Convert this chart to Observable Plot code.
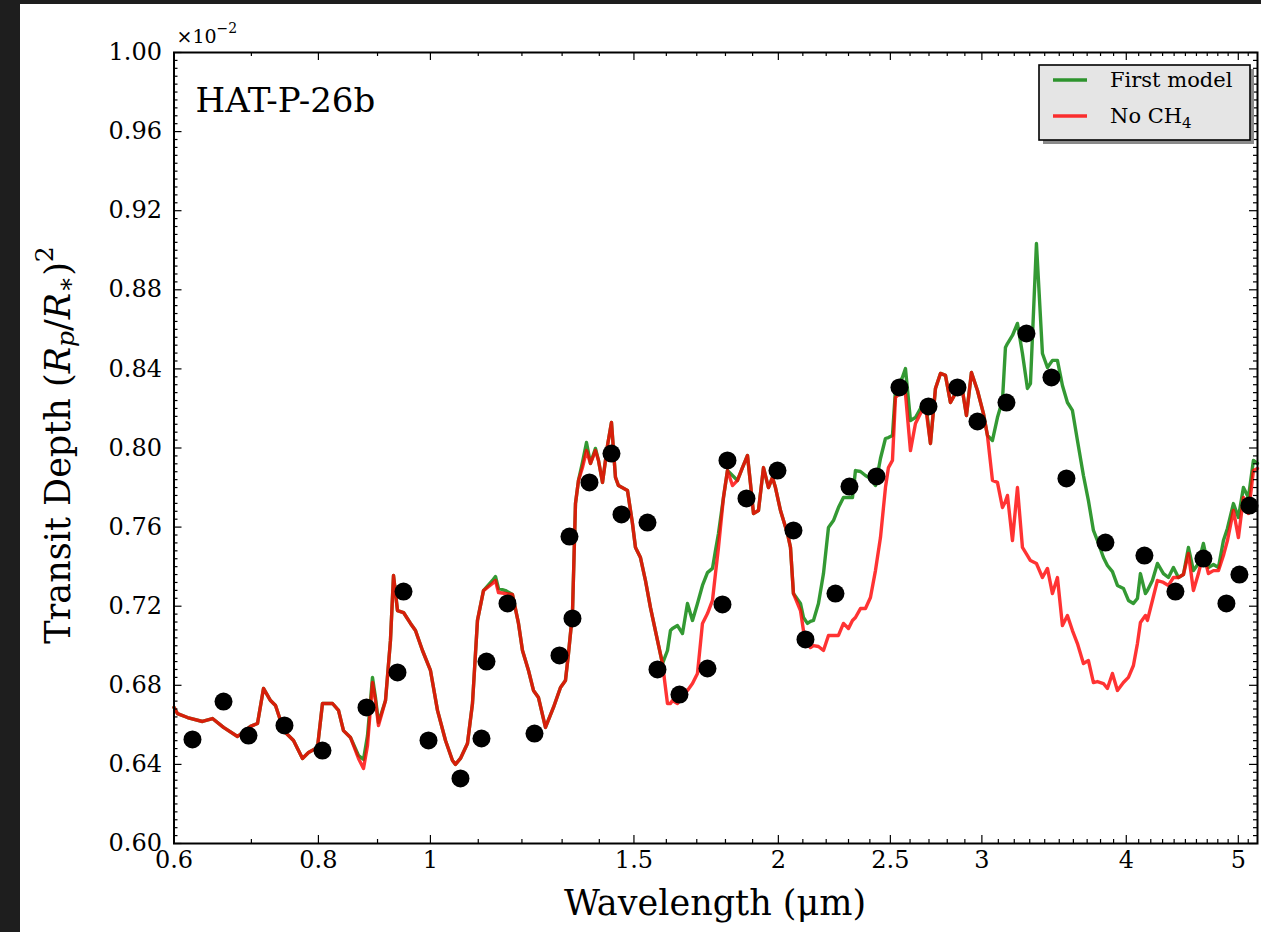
<!DOCTYPE html>
<html><head><meta charset="utf-8">
<script src="https://cdn.jsdelivr.net/npm/d3@7"></script>
<script src="https://cdn.jsdelivr.net/npm/@observablehq/plot@0.6"></script>
<style>
html,body{margin:0;padding:0;background:#1e1e1e;width:1261px;height:932px;overflow:hidden}
#fig{position:absolute;left:20px;top:4px;width:1241px;height:928px;background:#fff}
#fig svg{display:block}
#fig svg text{font-family:'DejaVu Serif',serif}
</style></head><body><div id="fig"></div>
<script>
// ---- data (transit depth in units of 1e-2) ----
const wavelength = [0.6000,0.6042,0.6164,0.6350,0.6478,0.6622,0.6809,0.6988,0.7086,0.7171,
0.7272,0.7345,0.7418,0.7492,0.7613,0.7750,0.7844,0.7985,0.8065,0.8228,
0.8327,0.8410,0.8528,0.8665,0.8752,0.8822,0.8910,0.8963,0.9017,0.9144,
0.9235,0.9291,0.9365,0.9478,0.9611,0.9707,0.9843,1.0001,1.0061,1.0142,
1.0305,1.0449,1.0512,1.0617,1.0766,1.0874,1.0983,1.1115,1.1316,1.1384,
1.1452,1.1613,1.1776,1.1918,1.2013,1.2158,1.2279,1.2402,1.2576,1.2778,
1.2958,1.3087,1.3166,1.3271,1.3351,1.3431,1.3538,1.3647,1.3756,1.3893,
1.3977,1.4089,1.4230,1.4343,1.4458,1.4545,1.4808,1.4956,1.5046,1.5196,
1.5348,1.5502,1.5720,1.5877,1.6036,1.6132,1.6197,1.6359,1.6523,1.6688,
1.6855,1.7024,1.7194,1.7366,1.7540,1.7645,1.7751,1.7929,1.8072,1.8253,
1.8436,1.8620,1.8807,1.8919,1.9033,1.9223,1.9416,1.9610,1.9767,1.9885,
2.0085,2.0366,2.0489,2.0611,2.0901,2.1026,2.1194,2.1321,2.1449,2.1664,
2.1881,2.2100,2.2321,2.2544,2.2770,2.2998,2.3182,2.3321,2.3554,2.3790,
2.4028,2.4269,2.4512,2.4757,2.4905,2.5105,2.5255,2.5610,2.5763,2.6021,
2.6282,2.6545,2.6810,2.7079,2.7350,2.7624,2.7900,2.8179,2.8461,2.8861,
2.9092,2.9383,2.9737,3.0094,3.0335,3.0639,3.0945,3.1255,3.1442,3.1568,
3.1884,3.2203,3.2525,3.2851,3.3048,3.3445,3.3847,3.4186,3.4528,3.4873,
3.5222,3.5575,3.5931,3.6291,3.6727,3.7094,3.7466,3.7766,3.8220,3.8525,
3.8911,3.9301,3.9773,4.0171,4.0573,4.0898,4.1143,4.1555,4.1721,4.2138,
4.2560,4.3072,4.3503,4.3939,4.4379,4.4823,4.5271,4.5725,4.6182,4.6644,
4.7111,4.7583,4.8059,4.8540,4.8929,4.9517,5.0012,5.0513,5.1019,5.1529,5.1942];

const depthNoCH4 = [0.6688,0.6657,0.6637,0.6617,0.6632,0.6587,0.6541,0.6592,0.6607,0.6784,
0.6723,0.6698,0.6622,0.6561,0.6521,0.6430,0.6460,0.6485,0.6708,0.6708,
0.6673,0.6571,0.6536,0.6430,0.6379,0.6496,0.6814,0.6723,0.6597,0.6723,
0.7027,0.7355,0.7178,0.7168,0.7113,0.7077,0.6976,0.6875,0.6789,0.6673,
0.6521,0.6420,0.6400,0.6430,0.6506,0.6708,0.7128,0.7279,0.7315,0.7330,
0.7269,0.7264,0.7259,0.7113,0.6976,0.6875,0.6774,0.6738,0.6587,0.6688,
0.6789,0.6824,0.6961,0.7163,0.7719,0.7836,0.7901,0.7987,0.7922,0.7987,
0.7937,0.7826,0.8013,0.8129,0.7851,0.7810,0.7785,0.7618,0.7497,0.7446,
0.7330,0.7193,0.7027,0.6910,0.6708,0.6708,0.6723,0.6708,0.6743,0.6774,
0.6809,0.6860,0.7113,0.7163,0.7229,0.7365,0.7497,0.7750,0.7886,0.7810,
0.7836,0.7901,0.7962,0.7821,0.7669,0.7684,0.7901,0.7800,0.7851,0.7800,
0.7684,0.7568,0.7497,0.7264,0.7178,0.7077,0.7016,0.6991,0.7001,0.6996,
0.6976,0.7052,0.7052,0.7052,0.7113,0.7087,0.7128,0.7143,0.7188,0.7188,
0.7244,0.7380,0.7547,0.7800,0.7901,0.7937,0.8255,0.8291,0.8276,0.7987,
0.8124,0.8174,0.8215,0.8023,0.8301,0.8377,0.8367,0.8230,0.8276,0.8291,
0.8164,0.8382,0.8291,0.8174,0.8063,0.7836,0.7826,0.7699,0.7730,0.7760,
0.7532,0.7800,0.7497,0.7456,0.7431,0.7416,0.7345,0.7391,0.7264,0.7345,
0.7102,0.7153,0.7077,0.7011,0.6910,0.6925,0.6814,0.6819,0.6809,0.6784,
0.6860,0.6774,0.6814,0.6840,0.6900,0.7011,0.7118,0.7153,0.7128,0.7229,
0.7330,0.7320,0.7305,0.7345,0.7345,0.7360,0.7467,0.7279,0.7365,0.7467,
0.7365,0.7380,0.7380,0.7456,0.7532,0.7684,0.7547,0.7750,0.7669,0.7886,0.7896];

const depthFirstModel = [0.6688,0.6657,0.6637,0.6617,0.6632,0.6587,0.6541,0.6592,0.6607,0.6784,
0.6723,0.6698,0.6622,0.6561,0.6521,0.6430,0.6460,0.6485,0.6708,0.6708,
0.6673,0.6571,0.6536,0.6445,0.6425,0.6546,0.6840,0.6738,0.6612,0.6723,
0.7027,0.7355,0.7178,0.7168,0.7113,0.7077,0.6976,0.6875,0.6789,0.6673,
0.6521,0.6420,0.6400,0.6430,0.6506,0.6708,0.7128,0.7279,0.7330,0.7350,
0.7290,0.7279,0.7259,0.7113,0.6976,0.6875,0.6774,0.6738,0.6587,0.6688,
0.6789,0.6824,0.6961,0.7163,0.7719,0.7836,0.7927,0.8028,0.7922,0.7998,
0.7937,0.7826,0.8013,0.8129,0.7851,0.7810,0.7785,0.7618,0.7497,0.7446,
0.7330,0.7193,0.7027,0.6910,0.6976,0.7077,0.7087,0.7102,0.7062,0.7214,
0.7128,0.7214,0.7305,0.7370,0.7391,0.7482,0.7568,0.7750,0.7886,0.7861,
0.7836,0.7901,0.7962,0.7821,0.7669,0.7684,0.7901,0.7800,0.7851,0.7800,
0.7684,0.7568,0.7497,0.7264,0.7214,0.7143,0.7113,0.7123,0.7128,0.7214,
0.7365,0.7598,0.7633,0.7699,0.7750,0.7750,0.7750,0.7886,0.7881,0.7861,
0.7846,0.7810,0.7947,0.8048,0.8053,0.8063,0.8291,0.8357,0.8402,0.8139,
0.8154,0.8200,0.8240,0.8023,0.8301,0.8377,0.8367,0.8230,0.8276,0.8291,
0.8164,0.8382,0.8291,0.8174,0.8063,0.8038,0.8154,0.8240,0.8508,0.8528,
0.8569,0.8630,0.8478,0.8301,0.8326,0.9034,0.8478,0.8407,0.8443,0.8443,
0.8316,0.8230,0.8190,0.8038,0.7861,0.7734,0.7583,0.7532,0.7446,0.7406,
0.7375,0.7305,0.7290,0.7229,0.7214,0.7239,0.7365,0.7264,0.7279,0.7330,
0.7416,0.7365,0.7345,0.7396,0.7345,0.7360,0.7497,0.7380,0.7416,0.7517,
0.7396,0.7411,0.7396,0.7532,0.7593,0.7719,0.7649,0.7800,0.7750,0.7937,0.7922];

const obsWavelength = [0.6225,0.6622,0.6960,0.7477,0.8065,0.8804,0.9365,0.9478,0.9962,1.0617,
1.1071,1.1182,1.1659,1.2304,1.2932,1.3192,1.3271,1.3728,1.4343,1.4632,
1.5410,1.5720,1.6424,1.7366,1.7893,1.8072,1.8769,1.9965,2.0611,2.1110,
2.2410,2.3044,2.4317,2.5457,2.6971,2.8575,2.9737,3.1505,3.2786,3.4459,
3.5504,3.8372,4.1472,4.4114,4.6644,4.8831,5.0112,5.1120];
const obsDepth = [0.6526,0.6718,0.6546,0.6597,0.6470,0.6688,0.6865,0.7274,0.6521,0.6329,
0.6531,0.6920,0.7214,0.6556,0.6951,0.7552,0.7138,0.7826,0.7972,0.7664,
0.7623,0.6880,0.6753,0.6885,0.7209,0.7937,0.7745,0.7886,0.7583,0.7032,
0.7264,0.7805,0.7856,0.8306,0.8210,0.8306,0.8134,0.8230,0.8579,0.8357,
0.7846,0.7522,0.7456,0.7274,0.7441,0.7214,0.7360,0.7709];

const xMajorTicks = [0.6, 0.8, 1, 1.5, 2, 2.5, 3, 4, 5];
const xTickLabels = ["0.6", "0.8", "1", "1.5", "2", "2.5", "3", "4", "5"];
const xMinorTicks = [0.7, 0.9, 1.1, 1.2, 1.3, 1.4, 1.6, 1.7, 1.8, 1.9, 2.1, 2.2, 2.3, 2.4,
  2.6, 2.7, 2.8, 2.9, 3.1, 3.2, 3.3, 3.4, 3.5, 3.6, 3.7, 3.8, 3.9,
  4.1, 4.2, 4.3, 4.4, 4.5, 4.6, 4.7, 4.8, 4.9, 5.1];
const yMajorTicks = [0.60, 0.64, 0.68, 0.72, 0.76, 0.80, 0.84, 0.88, 0.92, 0.96, 1.00];
const yTickLabels = ["0.60", "0.64", "0.68", "0.72", "0.76", "0.80", "0.84", "0.88", "0.92", "0.96", "1.00"];
const yMinorTicks = d3.range(0, 101).map(i => 0.6 + i * 0.004).filter((v, i) => i % 10 !== 0);

const seriesNames = ["First model", "No CH4"];
const seriesColors = ["green", "red"];

// ---- build table ----
const models = wavelength.map((w, i) => ({w, first: depthFirstModel[i], noch4: depthNoCH4[i]}));
const obs = obsWavelength.map((w, i) => ({w, d: obsDepth[i]}));

const W = 1241, H = 928, mL = 153.5, mR = 4, mT = 48, mB = 89;
const innerH = H - mT - mB, innerW = W - mL - mR;
const majL = 8, minL = 4;
const tk = {stroke: "black", strokeWidth: 1.2};
const font = "'DejaVu Serif', serif";

const svgNode = Plot.plot({
  width: W, height: H,
  marginLeft: mL, marginRight: mR, marginTop: mT, marginBottom: mB,
  style: {fontFamily: font, fontSize: "24px", background: "white", color: "black", overflow: "visible"},
  x: {type: "log", domain: [0.6, 5.195]},
  y: {domain: [0.6, 1.0]},
  marks: [
    Plot.axisX(xMajorTicks, {tickSize: 0, tickPadding: 7, fontSize: 24, label: null,
      tickFormat: d => xTickLabels[xMajorTicks.indexOf(d)]}),
    Plot.axisY(yMajorTicks, {tickSize: 0, tickPadding: 12, fontSize: 24, label: null,
      tickFormat: d => yTickLabels[yMajorTicks.indexOf(d)]}),
    Plot.line(models, {x: "w", y: "first", stroke: seriesColors[0], strokeOpacity: 0.8, strokeWidth: 3.4}),
    Plot.line(models, {x: "w", y: "noch4", stroke: seriesColors[1], strokeOpacity: 0.8, strokeWidth: 3.4}),
    Plot.dot(obs, {x: "w", y: "d", r: 9, fill: "black", stroke: null}),
    Plot.tickX(xMajorTicks, {x: d => d, insetTop: innerH - majL, ...tk}),
    Plot.tickX(xMajorTicks, {x: d => d, insetBottom: innerH - majL, ...tk}),
    Plot.tickX(xMinorTicks, {x: d => d, insetTop: innerH - minL, ...tk}),
    Plot.tickX(xMinorTicks, {x: d => d, insetBottom: innerH - minL, ...tk}),
    Plot.tickY(yMajorTicks, {y: d => d, insetRight: innerW - majL, ...tk}),
    Plot.tickY(yMajorTicks, {y: d => d, insetLeft: innerW - majL, ...tk}),
    Plot.tickY(yMinorTicks, {y: d => d, insetRight: innerW - minL, ...tk}),
    Plot.tickY(yMinorTicks, {y: d => d, insetLeft: innerW - minL, ...tk}),
    Plot.frame({stroke: "black", strokeWidth: 2})
  ]
});
document.getElementById("fig").appendChild(svgNode);

const svg = d3.select(svgNode);

// offset multiplier
const mult = svg.append("text").attr("x", mL + 3).attr("y", mT - 9).attr("text-anchor", "start")
  .style("font-family", font).attr("font-size", 19).attr("fill", "black");
mult.append("tspan").text("×10");
mult.append("tspan").attr("font-size", 14).attr("dy", -10).text("−2");

// panel label
svg.append("text").attr("x", mL + 22).attr("y", mT + 60).attr("text-anchor", "start")
  .style("font-family", font).attr("font-size", 34).attr("fill", "black").text("HAT-P-26b");

// x label
svg.append("text").attr("x", 695).attr("y", 899).attr("text-anchor", "middle").attr("dominant-baseline", "central")
  .style("font-family", font).attr("font-size", 35).attr("fill", "black").text("Wavelength (μm)");

// y label
const yl = svg.append("text").attr("transform", "translate(38,441) rotate(-90)").attr("text-anchor", "middle")
  .attr("dominant-baseline", "central").style("font-family", font).attr("font-size", 35).attr("fill", "black");
yl.append("tspan").text("Transit Depth (");
yl.append("tspan").attr("font-style", "italic").text("R");
yl.append("tspan").attr("font-style", "italic").attr("font-size", 25).attr("dy", 7).text("p");
yl.append("tspan").attr("dy", -7).text("/");
yl.append("tspan").attr("font-style", "italic").text("R");
yl.append("tspan").attr("font-size", 25).attr("dy", 7).text("∗");
yl.append("tspan").attr("dy", -7).text(")");
yl.append("tspan").attr("font-size", 25).attr("dy", -14).text("2");

// legend
const lg = svg.append("g");
lg.append("rect").attr("x", 1023).attr("y", 65).attr("width", 211).attr("height", 75).attr("fill", "#8a8a8a");
lg.append("rect").attr("x", 1019).attr("y", 61).attr("width", 211).attr("height", 75).attr("fill", "#e5e5e5").attr("stroke", "black").attr("stroke-width", 1.6);
seriesNames.forEach((name, i) => {
  const yy = 76 + i * 36;
  lg.append("line").attr("x1", 1033).attr("x2", 1067).attr("y1", yy).attr("y2", yy)
    .attr("stroke", seriesColors[i]).attr("stroke-opacity", 0.8).attr("stroke-width", 3.4);
  const t = lg.append("text").attr("x", 1090).attr("y", yy + 7).attr("text-anchor", "start")
    .style("font-family", font).attr("font-size", 21).attr("fill", "black");
  if (name === "No CH4") {
    t.append("tspan").text("No CH");
    t.append("tspan").attr("font-size", 15).attr("dy", 5).text("4");
  } else {
    t.text(name);
  }
});
</script></body></html>
